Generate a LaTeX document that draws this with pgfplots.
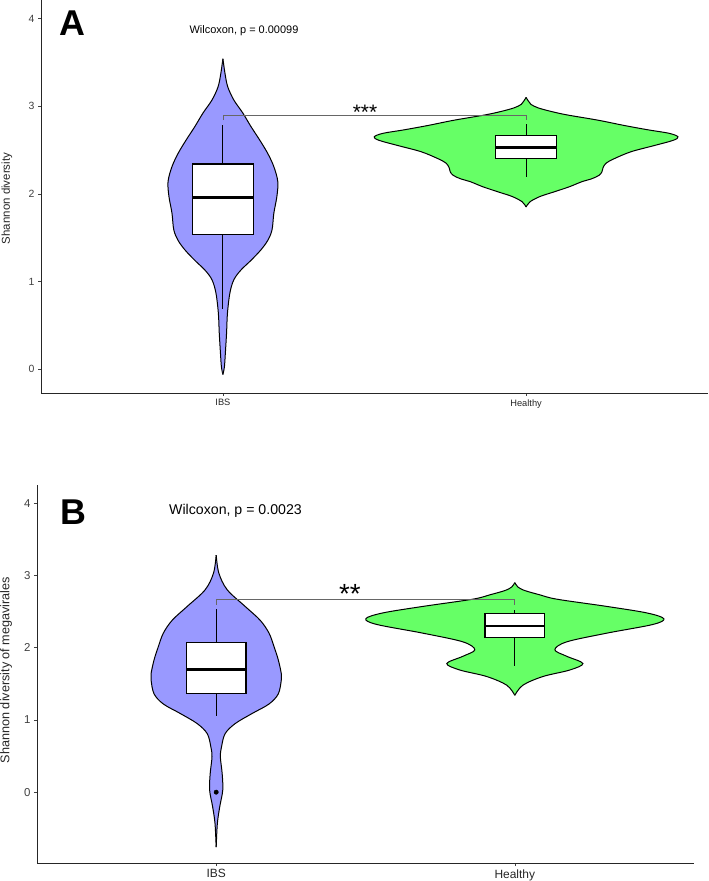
\documentclass[border=0pt]{standalone}
\usepackage{pgfplots}
\pgfplotsset{compat=1.18}
\usepackage{pgfplotstable}
\usepgfplotslibrary{statistics}
\usepackage{fontspec}
\setmainfont{Liberation Sans}
\definecolor{ibs}{RGB}{153,153,255}
\definecolor{hea}{RGB}{102,255,102}

% violin half-widths (x units) against value
\pgfplotstableread{
y hw
3.54 0
3.37 0.007
3.22 0.016
3.07 0.036
2.92 0.066
2.77 0.092
2.61 0.122
2.46 0.148
2.31 0.168
2.14 0.181
1.97 0.178
1.78 0.168
1.59 0.162
1.47 0.148
1.36 0.125
1.24 0.092
1.13 0.059
1.02 0.036
0.87 0.023
0.64 0.015
0.41 0.012
0.18 0.008
0.03 0.005
-0.06 0
}\violAibs

\pgfplotstableread{
y hw
3.10 0
3.06 0.007
3.02 0.016
2.98 0.040
2.94 0.082
2.90 0.135
2.84 0.237
2.78 0.323
2.73 0.402
2.69 0.472
2.65 0.501
2.61 0.485
2.55 0.422
2.48 0.346
2.40 0.290
2.35 0.264
2.30 0.254
2.25 0.250
2.21 0.240
2.17 0.215
2.14 0.185
2.08 0.142
2.02 0.090
1.97 0.046
1.91 0.013
1.85 0
}\violAhea

\pgfplotstableread{
y hw
3.28 0
3.03 0.009
2.80 0.037
2.57 0.097
2.38 0.147
2.20 0.177
2.01 0.194
1.83 0.208
1.64 0.218
1.55 0.218
1.36 0.208
1.22 0.177
1.09 0.121
0.95 0.064
0.81 0.030
0.63 0.018
0.49 0.014
0.26 0.020
0.03 0.022
-0.20 0.012
-0.43 0.004
-0.76 0
}\violBibs

\pgfplotstableread{
y hw
2.90 0
2.84 0.010
2.79 0.033
2.73 0.084
2.67 0.141
2.57 0.308
2.48 0.442
2.40 0.499
2.32 0.462
2.20 0.308
2.08 0.174
1.97 0.134
1.88 0.174
1.78 0.228
1.69 0.184
1.60 0.094
1.48 0.027
1.34 0
}\violBhea

\pgfplotsset{
  vio/.style={
    scale only axis,
    xmin=0.4, xmax=2.6,
    axis lines=left,
    axis line style={-, line width=0.9bp, black!85},
    tick align=outside,
    major tick length=3bp,
    tick style={black!75, line width=0.6bp},
    xtick={1,2}, xticklabels={IBS,Healthy},
    ytick={0,1,2,3,4},
    yticklabel style={text=black!75},
    xticklabel style={text=black!85},
    /pgf/number format/assume math mode=true,
  },
  half/.style={draw=black, line width=1bp, smooth, tension=0.55, fill=#1},
  bx/.style={draw=black, line width=1.1bp, fill=white},
}

\begin{document}
\begin{tikzpicture}
\useasboundingbox (0bp,0bp) rectangle (709bp,881bp);

% ---------------- Panel A ----------------
\begin{axis}[vio,
  at={(41bp,488bp)}, anchor=south west,
  width=667bp, height=393bp,
  ymin=-0.27, ymax=4.21,
  yticklabel style={font=\fontsize{10.5}{12}\selectfont},
  xticklabel style={font=\fontsize{9.3}{11}\selectfont},
]
\addplot[half=ibs] table[x expr=1-\thisrow{hw}, y=y] {\violAibs};
\addplot[half=ibs] table[x expr=1+\thisrow{hw}, y=y] {\violAibs};
\addplot[half=hea] table[x expr=2-\thisrow{hw}, y=y] {\violAhea};
\addplot[half=hea] table[x expr=2+\thisrow{hw}, y=y] {\violAhea};

\addplot[bx,
  boxplot prepared={draw direction=y, draw position=1, lower whisker=0.69, lower quartile=1.54,
    median=1.96, upper quartile=2.34, upper whisker=2.78,
    box extend=0.2, whisker extend=0, every median/.style={line width=2.6bp}}]
  coordinates {};
\addplot[bx,
  boxplot prepared={draw direction=y, draw position=2, lower whisker=2.19, lower quartile=2.40,
    median=2.53, upper quartile=2.67, upper whisker=2.80,
    box extend=0.2, whisker extend=0, every median/.style={line width=2.6bp}}]
  coordinates {};
\addplot[black!60, line width=0.7bp] coordinates {(1,2.84) (1,2.89) (2,2.89) (2,2.84)};
\end{axis}

% ---------------- Panel B ----------------
\begin{axis}[vio,
  at={(37bp,18bp)}, anchor=south west,
  width=657bp, height=378bp,
  ymin=-0.98, ymax=4.25,
  yticklabel style={font=\fontsize{11.5}{13}\selectfont},
  xticklabel style={font=\fontsize{12}{14}\selectfont},
]
\addplot[half=ibs] table[x expr=1-\thisrow{hw}, y=y] {\violBibs};
\addplot[half=ibs] table[x expr=1+\thisrow{hw}, y=y] {\violBibs};
\addplot[half=hea] table[x expr=2-\thisrow{hw}, y=y] {\violBhea};
\addplot[half=hea] table[x expr=2+\thisrow{hw}, y=y] {\violBhea};

\addplot[bx,
  boxplot prepared={draw direction=y, draw position=1, lower whisker=1.05, lower quartile=1.37,
    median=1.70, upper quartile=2.07, upper whisker=2.53,
    box extend=0.2, whisker extend=0, every median/.style={line width=2.6bp}}]
  coordinates {};
\addplot[bx,
  boxplot prepared={draw direction=y, draw position=2, lower whisker=1.74, lower quartile=2.14,
    median=2.30, upper quartile=2.47, upper whisker=2.52,
    box extend=0.2, whisker extend=0, every median/.style={line width=2.6bp}}]
  coordinates {};
\addplot[only marks, mark=*, mark size=2.2bp, black] coordinates {(1,0)};
\addplot[black!60, line width=0.7bp] coordinates {(1,2.59) (1,2.67) (2,2.67) (2,2.59)};
\end{axis}

% ---------------- Annotations ----------------
\node[anchor=base, inner sep=0pt, font=\fontsize{36}{40}\selectfont\bfseries] at (72bp,845bp) {A};
\node[anchor=base, inner sep=0pt, font=\fontsize{11}{13}\selectfont] at (244bp,847.7bp) {Wilcoxon, p = 0.00099};
\node[anchor=base, inner sep=0pt, font=\fontsize{21}{24}\selectfont] at (365bp,761bp) {***};
\node[rotate=90, anchor=center, inner sep=0pt, font=\fontsize{11.5}{13}\selectfont, text=black!85] at (7bp,682.5bp) {Shannon diversity};

\node[anchor=base, inner sep=0pt, font=\fontsize{36}{40}\selectfont\bfseries] at (73.5bp,356bp) {B};
\node[anchor=base, inner sep=0pt, font=\fontsize{14.2}{16}\selectfont] at (235.5bp,366bp) {Wilcoxon, p = 0.0023};
\node[anchor=base, inner sep=0pt, font=\fontsize{27.8}{30}\selectfont] at (350bp,277.8bp) {**};
\node[rotate=90, anchor=center, inner sep=0pt, font=\fontsize{12.7}{14}\selectfont, text=black!85] at (6bp,211bp) {Shannon diversity of megavirales};
\end{tikzpicture}
\end{document}
